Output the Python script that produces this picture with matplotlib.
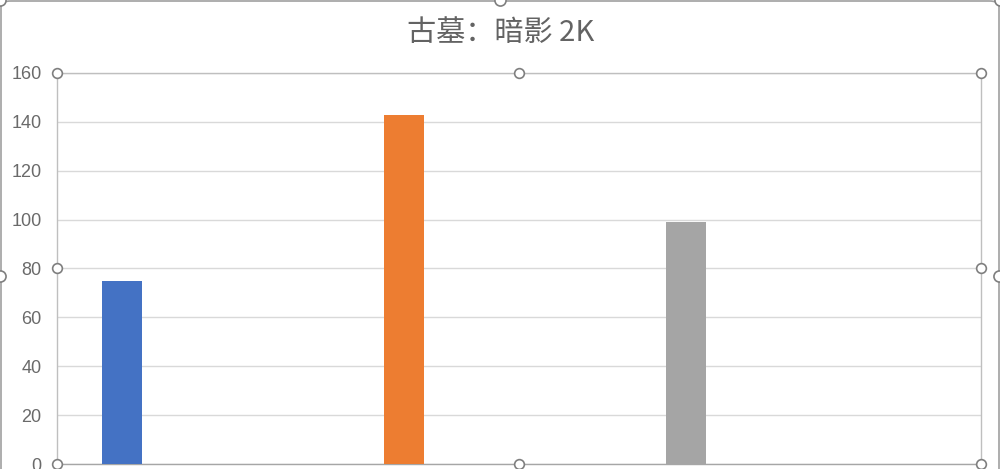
import numpy as np
import matplotlib.pyplot as plt
from matplotlib.lines import Line2D
from matplotlib.patches import FancyBboxPatch

plt.rcParams['font.family'] = ['Noto Sans CJK SC', 'DejaVu Sans']

title = '古墓：暗影 2K'
values = [75, 143, 99]
colors = ['#4472C4', '#ED7D31', '#A5A5A5']
yticks = [0, 20, 40, 60, 80, 100, 120, 140, 160]

W, H = 1000, 469
fig = plt.figure(figsize=(W / 100, H / 100), dpi=100)
fig.patch.set_facecolor('white')

# plot area in pixels: x 57..981, y 73..464
ax = fig.add_axes([57 / W, (H - 464) / H, 924 / W, 391 / H])
x = np.arange(len(values))
ax.bar(x, values, width=40 / 282, color=colors, zorder=3)
ax.set_xlim(-65 / 282, 859 / 282)
ax.set_ylim(0, 160)
ax.set_yticks(yticks)
ax.set_xticks([])
ax.tick_params(axis='y', length=0, pad=11, labelsize=13, labelcolor='#6a6a6a')
for lbl in ax.get_yticklabels():
    lbl.set_family(['Liberation Sans', 'DejaVu Sans'])
ax.grid(axis='y', color='#d9d9d9', lw=1, zorder=0)
for s in ax.spines.values():
    s.set_color('#bfbfbf')
    s.set_linewidth(1)
ax.spines['bottom'].set_color('#a6a6a6')

fig.text(501 / W, 1 - 33 / H, title, ha='center', va='center',
         fontsize=21, color='#636363')

# outer chart border
fig.patches.append(FancyBboxPatch((1 / W, -0.2), 998 / W, 1.2 - 1 / H,
                                  boxstyle='round,pad=0,rounding_size=0.01',
                                  transform=fig.transFigure, fill=False,
                                  ec='#a0a0a0', lw=1.2))

def handle(px, py, r=7):
    fig.add_artist(Line2D([px / W], [1 - py / H], transform=fig.transFigure,
                          marker='o', ms=r, mfc='white', mec='#7f7f7f', mew=1.2,
                          ls='none', zorder=10, clip_on=False))

# selection handles on plot area
for hx in (57, 519, 981):
    for hy in (73, 464):
        handle(hx, hy)
handle(57, 268)
handle(981, 268)
# selection handles on chart area
for hx, hy in ((0, 0), (500, 0), (1000, 0), (0, 276), (999, 276)):
    handle(hx, hy, 8)

fig.savefig('out.png', dpi=100)
